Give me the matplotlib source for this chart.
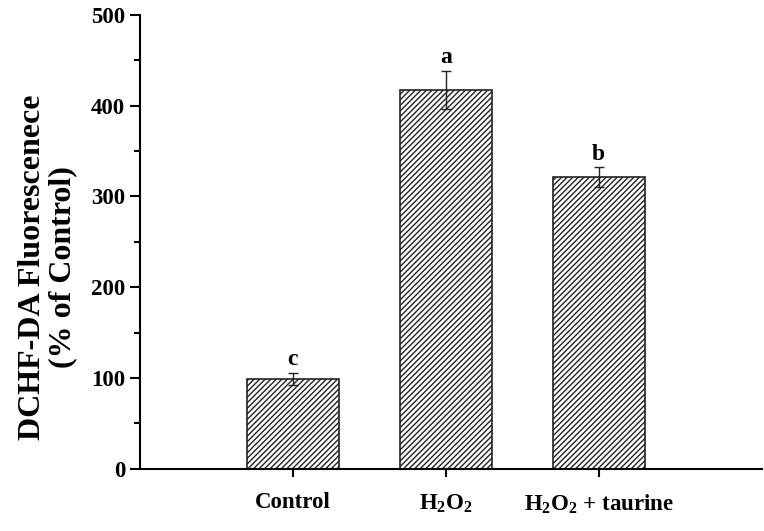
import numpy as np
import matplotlib
matplotlib.use("Agg")
import matplotlib.pyplot as plt

plt.rcParams['font.family'] = ['Liberation Serif', 'DejaVu Serif']
plt.rcParams['font.weight'] = 'bold'
plt.rcParams['mathtext.fontset'] = 'custom'
plt.rcParams['mathtext.rm'] = 'Liberation Serif:bold'
plt.rcParams['mathtext.bf'] = 'Liberation Serif:bold'
plt.rcParams['mathtext.it'] = 'Liberation Serif:bold'
plt.rcParams['hatch.linewidth'] = 1.0

groups = ['Control', r'H$_\mathbf{2}$O$_\mathbf{2}$', r'H$_\mathbf{2}$O$_\mathbf{2}$ + taurine']
values = [99, 417, 321]
errors = [7, 21, 11]
letters = ['c', 'a', 'b']

fig = plt.figure(figsize=(7.64, 5.31), dpi=100)
ax = fig.add_axes([0.183, 0.117, 0.815, 0.855])

x = np.arange(1, len(values) + 1)
ax.bar(x, values, width=0.6, color='white', edgecolor='#222222', hatch='//////', linewidth=1.2)
ax.errorbar(x, values, yerr=errors, fmt='none', ecolor='#222222', elinewidth=1.0, capsize=3.5, capthick=1.0)

for xi, v, e, t in zip(x, values, errors, letters):
    ax.text(xi, v + e + 3, t, ha='center', va='bottom', fontsize=17, fontweight='bold')

ax.set_xlim(0, 4.07)
ax.set_ylim(0, 500)
ax.set_xticks(x)
ax.set_xticklabels(groups, fontsize=16.5, fontweight='bold')
ax.set_yticks(np.arange(0, 501, 100))
ax.set_yticks(np.arange(50, 500, 100), minor=True)
ax.tick_params(axis='y', labelsize=16.5, width=1.5, length=7, direction='out')
ax.tick_params(axis='y', which='minor', width=1.5, length=4, direction='out')
ax.tick_params(axis='x', width=1.5, length=6, direction='out', pad=11)
for lbl in ax.get_yticklabels():
    lbl.set_fontweight('bold')

ax.spines['top'].set_visible(False)
ax.spines['right'].set_visible(False)
ax.spines['left'].set_linewidth(1.5)
ax.spines['bottom'].set_linewidth(1.5)

ax.set_ylabel('DCHF-DA Fluorescenece\n(% of Control)', fontsize=23, fontweight='bold',
              linespacing=1.05)
ax.yaxis.set_label_coords(-0.101, 0.445)

fig.savefig('out.png', dpi=100, facecolor='white')
